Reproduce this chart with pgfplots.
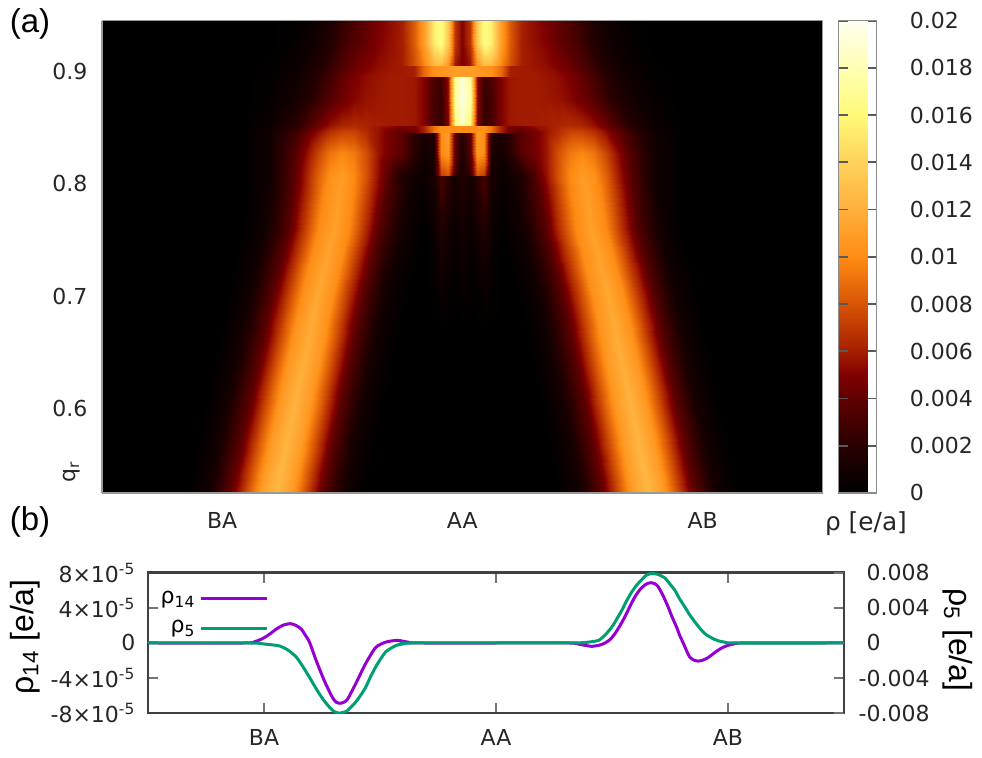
\documentclass[border=0pt]{standalone}
\usepackage{fontspec}
\setmainfont{DejaVu Sans}
\newfontfamily\lib{Liberation Sans}
\usepackage{pgfplots}
\pgfplotsset{compat=1.18}
\definecolor{rhoA}{RGB}{148,0,211}
\definecolor{rhoB}{RGB}{0,158,115}
\pgfplotsset{colormap={rhomap}{rgb255(0cm)=(0,0,0); rgb255(2cm)=(40,0,0); rgb255(4cm)=(96,0,0); rgb255(5cm)=(128,0,0); rgb255(6cm)=(165,30,0); rgb255(8cm)=(215,85,5); rgb255(10cm)=(255,140,20); rgb255(12cm)=(255,175,60); rgb255(14cm)=(255,210,90); rgb255(16cm)=(255,250,120); rgb255(18cm)=(255,255,180); rgb255(20cm)=(255,255,240)}}
\begin{document}
\begin{tikzpicture}
\path[use as bounding box] (0,0) rectangle (491pt,379pt);
\begin{axis}[
  at={(51pt,132.5pt)}, anchor=south west,
  scale only axis, width=360.35pt, height=236.2pt,
  view={0}{90},
  xmin=-1.5, xmax=1.5, ymin=0.525, ymax=0.945,
  ztick=\empty,
  axis background/.style={fill=black},
  axis line style={draw=black!40, line width=0.6pt},
  xtick={-1,0,1}, xticklabels={BA,AA,AB},
  ytick={0.6,0.7,0.8,0.9}, yticklabels={0.6,0.7,0.8,0.9},
  major tick length=0pt,
  tick label style={font=\fontsize{11}{13}\selectfont, text=black!85},
  yticklabel style={xshift=-3.8pt},
  xticklabel style={yshift=-6.3pt},
  colormap name=rhomap,
  point meta min=0, point meta max=0.02,
  colorbar,
  colorbar style={
    at={(parent axis.north east)}, anchor=north west, xshift=-0.45pt,
    width=19pt,
    ytick={0,0.002,0.004,0.006,0.008,0.01,0.012,0.014,0.016,0.018,0.02},
    yticklabels={0,0.002,0.004,0.006,0.008,0.01,0.012,0.014,0.016,0.018,0.02},
    yticklabel style={font=\fontsize{11}{13}\selectfont, text=black!85, xshift=12.95pt},
    tick align=inside, ytick pos=both, yticklabel pos=right,
    major tick length=4.5pt,
    ytick style={draw=black!65, line width=0.9pt},
    axis line style={draw=black!45, line width=0.6pt},
    scaled y ticks=false,
  },
]
% left band
\addplot3[surf, shader=interp, mesh/cols=11, point meta=z] coordinates {
(-1.149,0.525,0) (-1.055,0.525,0.001) (-0.962,0.525,0.0041) (-0.899,0.525,0.0076) (-0.837,0.525,0.011) (-0.774,0.525,0.0125) (-0.712,0.525,0.011) (-0.649,0.525,0.0076) (-0.587,0.525,0.0041) (-0.493,0.525,0.001) (-0.399,0.525,0)
(-1.097,0.58,0) (-1.003,0.58,0.001) (-0.91,0.58,0.004) (-0.847,0.58,0.0075) (-0.785,0.58,0.0108) (-0.722,0.58,0.0123) (-0.66,0.58,0.0108) (-0.597,0.58,0.0075) (-0.535,0.58,0.004) (-0.441,0.58,0.001) (-0.347,0.58,0)
(-1.039,0.64,0) (-0.945,0.64,0.001) (-0.852,0.64,0.0039) (-0.789,0.64,0.0073) (-0.727,0.64,0.0106) (-0.664,0.64,0.012) (-0.602,0.64,0.0106) (-0.539,0.64,0.0073) (-0.477,0.64,0.0039) (-0.383,0.64,0.001) (-0.289,0.64,0)
(-0.981,0.7,0) (-0.887,0.7,0.0009) (-0.794,0.7,0.0038) (-0.731,0.7,0.007) (-0.669,0.7,0.0102) (-0.606,0.7,0.0116) (-0.544,0.7,0.0102) (-0.481,0.7,0.007) (-0.419,0.7,0.0038) (-0.325,0.7,0.0009) (-0.231,0.7,0)
(-0.916,0.76,0) (-0.821,0.76,0.0009) (-0.726,0.76,0.0036) (-0.662,0.76,0.0068) (-0.599,0.76,0.0099) (-0.535,0.76,0.0112) (-0.472,0.76,0.0099) (-0.408,0.76,0.0068) (-0.345,0.76,0.0036) (-0.249,0.76,0.0009) (-0.154,0.76,0)
(-0.9,0.8,0) (-0.8025,0.8,0.0009) (-0.705,0.8,0.0036) (-0.64,0.8,0.0067) (-0.575,0.8,0.0097) (-0.51,0.8,0.011) (-0.445,0.8,0.0097) (-0.38,0.8,0.0067) (-0.315,0.8,0.0036) (-0.2175,0.8,0.0009) (-0.12,0.8,0)
};
% right band
\addplot3[surf, shader=interp, mesh/cols=11, point meta=z] coordinates {
(1.149,0.525,0) (1.055,0.525,0.001) (0.962,0.525,0.0041) (0.899,0.525,0.0076) (0.837,0.525,0.011) (0.774,0.525,0.0125) (0.712,0.525,0.011) (0.649,0.525,0.0076) (0.587,0.525,0.0041) (0.493,0.525,0.001) (0.399,0.525,0)
(1.097,0.58,0) (1.003,0.58,0.001) (0.91,0.58,0.004) (0.847,0.58,0.0075) (0.785,0.58,0.0108) (0.722,0.58,0.0123) (0.66,0.58,0.0108) (0.597,0.58,0.0075) (0.535,0.58,0.004) (0.441,0.58,0.001) (0.347,0.58,0)
(1.039,0.64,0) (0.945,0.64,0.001) (0.852,0.64,0.0039) (0.789,0.64,0.0073) (0.727,0.64,0.0106) (0.664,0.64,0.012) (0.602,0.64,0.0106) (0.539,0.64,0.0073) (0.477,0.64,0.0039) (0.383,0.64,0.001) (0.289,0.64,0)
(0.981,0.7,0) (0.887,0.7,0.0009) (0.794,0.7,0.0038) (0.731,0.7,0.007) (0.669,0.7,0.0102) (0.606,0.7,0.0116) (0.544,0.7,0.0102) (0.481,0.7,0.007) (0.419,0.7,0.0038) (0.325,0.7,0.0009) (0.231,0.7,0)
(0.916,0.76,0) (0.821,0.76,0.0009) (0.726,0.76,0.0036) (0.662,0.76,0.0068) (0.599,0.76,0.0099) (0.535,0.76,0.0112) (0.472,0.76,0.0099) (0.408,0.76,0.0068) (0.345,0.76,0.0036) (0.249,0.76,0.0009) (0.154,0.76,0)
(0.9,0.8,0) (0.8025,0.8,0.0009) (0.705,0.8,0.0036) (0.64,0.8,0.0067) (0.575,0.8,0.0097) (0.51,0.8,0.011) (0.445,0.8,0.0097) (0.38,0.8,0.0067) (0.315,0.8,0.0036) (0.2175,0.8,0.0009) (0.12,0.8,0)
};
% faint central stripes
\addplot3[surf, shader=interp, mesh/cols=11, point meta=z] coordinates {
(-0.16,0.67,0) (-0.12,0.67,0) (-0.09,0.67,0) (-0.06,0.67,0) (-0.03,0.67,0) (0,0.67,0) (0.03,0.67,0) (0.06,0.67,0) (0.09,0.67,0) (0.12,0.67,0) (0.16,0.67,0)
(-0.16,0.72,0) (-0.12,0.72,0.0003) (-0.09,0.72,0.0008) (-0.06,0.72,0.0004) (-0.03,0.72,0.0002) (0,0.72,0.0006) (0.03,0.72,0.0002) (0.06,0.72,0.0004) (0.09,0.72,0.0008) (0.12,0.72,0.0003) (0.16,0.72,0)
(-0.16,0.76,0) (-0.12,0.76,0.0006) (-0.09,0.76,0.0016) (-0.06,0.76,0.001) (-0.03,0.76,0.0005) (0,0.76,0.001) (0.03,0.76,0.0005) (0.06,0.76,0.001) (0.09,0.76,0.0016) (0.12,0.76,0.0006) (0.16,0.76,0)
(-0.16,0.8,0.0006) (-0.12,0.8,0.0011) (-0.09,0.8,0.0031) (-0.06,0.8,0.002) (-0.03,0.8,0.001) (0,0.8,0.0016) (0.03,0.8,0.001) (0.06,0.8,0.002) (0.09,0.8,0.0031) (0.12,0.8,0.0011) (0.16,0.8,0.0006)
};
% top region
\addplot3[surf, shader=interp, mesh/cols=37, point meta=z] coordinates {
(-0.9,0.8,0.0001) (-0.8,0.8,0.0009) (-0.7,0.8,0.0038) (-0.65,0.8,0.0061) (-0.6,0.8,0.0087) (-0.55,0.8,0.0105) (-0.5,0.8,0.011) (-0.45,0.8,0.0099) (-0.4,0.8,0.0077) (-0.35,0.8,0.0052) (-0.3,0.8,0.003) (-0.25,0.8,0.0015) (-0.2,0.8,0.0006) (-0.16,0.8,0.0006) (-0.12,0.8,0.0011) (-0.09,0.8,0.0031) (-0.06,0.8,0.002) (-0.03,0.8,0.001) (0,0.8,0.0016) (0.03,0.8,0.001) (0.06,0.8,0.002) (0.09,0.8,0.0031) (0.12,0.8,0.0011) (0.16,0.8,0.0006) (0.2,0.8,0.0006) (0.25,0.8,0.0015) (0.3,0.8,0.003) (0.35,0.8,0.0052) (0.4,0.8,0.0077) (0.45,0.8,0.0099) (0.5,0.8,0.011) (0.55,0.8,0.0105) (0.6,0.8,0.0087) (0.65,0.8,0.0061) (0.7,0.8,0.0038) (0.8,0.8,0.0009) (0.9,0.8,0.0001)
(-0.9,0.8079,0.0001) (-0.8,0.8079,0.0009) (-0.7,0.8079,0.0037) (-0.65,0.8079,0.006) (-0.6,0.8079,0.0084) (-0.55,0.8079,0.0102) (-0.5,0.8079,0.0108) (-0.45,0.8079,0.0099) (-0.4,0.8079,0.0079) (-0.35,0.8079,0.0055) (-0.3,0.8079,0.0033) (-0.25,0.8079,0.0017) (-0.2,0.8079,0.0008) (-0.16,0.8079,0.0007) (-0.12,0.8079,0.0012) (-0.09,0.8079,0.0031) (-0.06,0.8079,0.002) (-0.03,0.8079,0.001) (0,0.8079,0.0016) (0.03,0.8079,0.001) (0.06,0.8079,0.002) (0.09,0.8079,0.0031) (0.12,0.8079,0.0012) (0.16,0.8079,0.0007) (0.2,0.8079,0.0008) (0.25,0.8079,0.0017) (0.3,0.8079,0.0033) (0.35,0.8079,0.0055) (0.4,0.8079,0.0079) (0.45,0.8079,0.0099) (0.5,0.8079,0.0108) (0.55,0.8079,0.0102) (0.6,0.8079,0.0084) (0.65,0.8079,0.006) (0.7,0.8079,0.0037) (0.8,0.8079,0.0009) (0.9,0.8079,0.0001)
(-0.9,0.8081,0.0001) (-0.8,0.8081,0.0009) (-0.7,0.8081,0.0037) (-0.65,0.8081,0.006) (-0.6,0.8081,0.0084) (-0.55,0.8081,0.0102) (-0.5,0.8081,0.0108) (-0.45,0.8081,0.0099) (-0.4,0.8081,0.0079) (-0.35,0.8081,0.0055) (-0.3,0.8081,0.0033) (-0.25,0.8081,0.0017) (-0.2,0.8081,0.0008) (-0.16,0.8081,0.0005) (-0.12,0.8081,0.001) (-0.09,0.8081,0.0072) (-0.06,0.8081,0.008) (-0.03,0.8081,0.0028) (0,0.8081,0.0012) (0.03,0.8081,0.0028) (0.06,0.8081,0.008) (0.09,0.8081,0.0072) (0.12,0.8081,0.001) (0.16,0.8081,0.0005) (0.2,0.8081,0.0008) (0.25,0.8081,0.0017) (0.3,0.8081,0.0033) (0.35,0.8081,0.0055) (0.4,0.8081,0.0079) (0.45,0.8081,0.0099) (0.5,0.8081,0.0108) (0.55,0.8081,0.0102) (0.6,0.8081,0.0084) (0.65,0.8081,0.006) (0.7,0.8081,0.0037) (0.8,0.8081,0.0009) (0.9,0.8081,0.0001)
(-0.9,0.827,0.0001) (-0.8,0.827,0.0009) (-0.7,0.827,0.0034) (-0.65,0.827,0.0053) (-0.6,0.827,0.0074) (-0.55,0.827,0.0091) (-0.5,0.827,0.0098) (-0.45,0.827,0.0093) (-0.4,0.827,0.0078) (-0.35,0.827,0.0057) (-0.3,0.827,0.0045) (-0.25,0.827,0.0038) (-0.2,0.827,0.002) (-0.16,0.827,0.0009) (-0.12,0.827,0.0015) (-0.09,0.827,0.01) (-0.06,0.827,0.0108) (-0.03,0.827,0.0036) (0,0.827,0.0016) (0.03,0.827,0.0036) (0.06,0.827,0.0108) (0.09,0.827,0.01) (0.12,0.827,0.0015) (0.16,0.827,0.0009) (0.2,0.827,0.002) (0.25,0.827,0.0038) (0.3,0.827,0.0045) (0.35,0.827,0.0057) (0.4,0.827,0.0078) (0.45,0.827,0.0093) (0.5,0.827,0.0098) (0.55,0.827,0.0091) (0.6,0.827,0.0074) (0.65,0.827,0.0053) (0.7,0.827,0.0034) (0.8,0.827,0.0009) (0.9,0.827,0.0001)
(-0.9,0.8459,0.0002) (-0.8,0.8459,0.0008) (-0.7,0.8459,0.0026) (-0.65,0.8459,0.004) (-0.6,0.8459,0.0054) (-0.55,0.8459,0.0067) (-0.5,0.8459,0.0074) (-0.45,0.8459,0.0074) (-0.4,0.8459,0.0065) (-0.35,0.8459,0.0056) (-0.3,0.8459,0.0046) (-0.25,0.8459,0.0038) (-0.2,0.8459,0.0022) (-0.16,0.8459,0.0012) (-0.12,0.8459,0.0018) (-0.09,0.8459,0.0102) (-0.06,0.8459,0.011) (-0.03,0.8459,0.0038) (0,0.8459,0.0018) (0.03,0.8459,0.0038) (0.06,0.8459,0.011) (0.09,0.8459,0.0102) (0.12,0.8459,0.0018) (0.16,0.8459,0.0012) (0.2,0.8459,0.0022) (0.25,0.8459,0.0038) (0.3,0.8459,0.0046) (0.35,0.8459,0.0056) (0.4,0.8459,0.0065) (0.45,0.8459,0.0074) (0.5,0.8459,0.0074) (0.55,0.8459,0.0067) (0.6,0.8459,0.0054) (0.65,0.8459,0.004) (0.7,0.8459,0.0026) (0.8,0.8459,0.0008) (0.9,0.8459,0.0002)
(-0.9,0.8461,0.0002) (-0.8,0.8461,0.0008) (-0.7,0.8461,0.0026) (-0.65,0.8461,0.004) (-0.6,0.8461,0.0054) (-0.55,0.8461,0.0067) (-0.5,0.8461,0.0074) (-0.45,0.8461,0.0074) (-0.4,0.8461,0.0065) (-0.35,0.8461,0.0056) (-0.3,0.8461,0.0046) (-0.25,0.8461,0.0038) (-0.2,0.8461,0.0045) (-0.16,0.8461,0.006) (-0.12,0.8461,0.0092) (-0.09,0.8461,0.0103) (-0.06,0.8461,0.0103) (-0.03,0.8461,0.01) (0,0.8461,0.01) (0.03,0.8461,0.01) (0.06,0.8461,0.0103) (0.09,0.8461,0.0103) (0.12,0.8461,0.0092) (0.16,0.8461,0.006) (0.2,0.8461,0.0045) (0.25,0.8461,0.0038) (0.3,0.8461,0.0046) (0.35,0.8461,0.0056) (0.4,0.8461,0.0065) (0.45,0.8461,0.0074) (0.5,0.8461,0.0074) (0.55,0.8461,0.0067) (0.6,0.8461,0.0054) (0.65,0.8461,0.004) (0.7,0.8461,0.0026) (0.8,0.8461,0.0008) (0.9,0.8461,0.0002)
(-0.9,0.8519,0.0001) (-0.8,0.8519,0.0006) (-0.7,0.8519,0.0018) (-0.65,0.8519,0.003) (-0.6,0.8519,0.0043) (-0.55,0.8519,0.0055) (-0.5,0.8519,0.0062) (-0.45,0.8519,0.0064) (-0.4,0.8519,0.0062) (-0.35,0.8519,0.0058) (-0.3,0.8519,0.0055) (-0.25,0.8519,0.005) (-0.2,0.8519,0.0048) (-0.16,0.8519,0.0062) (-0.12,0.8519,0.0092) (-0.09,0.8519,0.0103) (-0.06,0.8519,0.0103) (-0.03,0.8519,0.01) (0,0.8519,0.01) (0.03,0.8519,0.01) (0.06,0.8519,0.0103) (0.09,0.8519,0.0103) (0.12,0.8519,0.0092) (0.16,0.8519,0.0062) (0.2,0.8519,0.0048) (0.25,0.8519,0.005) (0.3,0.8519,0.0055) (0.35,0.8519,0.0058) (0.4,0.8519,0.0062) (0.45,0.8519,0.0064) (0.5,0.8519,0.0062) (0.55,0.8519,0.0055) (0.6,0.8519,0.0043) (0.65,0.8519,0.003) (0.7,0.8519,0.0018) (0.8,0.8519,0.0006) (0.9,0.8519,0.0001)
(-0.9,0.8521,0.0001) (-0.8,0.8521,0.0006) (-0.7,0.8521,0.0018) (-0.65,0.8521,0.003) (-0.6,0.8521,0.0043) (-0.55,0.8521,0.0055) (-0.5,0.8521,0.0062) (-0.45,0.8521,0.0064) (-0.4,0.8521,0.0062) (-0.35,0.8521,0.006) (-0.3,0.8521,0.0059) (-0.25,0.8521,0.0059) (-0.2,0.8521,0.0058) (-0.16,0.8521,0.005) (-0.12,0.8521,0.003) (-0.09,0.8521,0.0025) (-0.06,0.8521,0.005) (-0.03,0.8521,0.016) (0,0.8521,0.0185) (0.03,0.8521,0.016) (0.06,0.8521,0.005) (0.09,0.8521,0.0025) (0.12,0.8521,0.003) (0.16,0.8521,0.005) (0.2,0.8521,0.0058) (0.25,0.8521,0.0059) (0.3,0.8521,0.0059) (0.35,0.8521,0.006) (0.4,0.8521,0.0062) (0.45,0.8521,0.0064) (0.5,0.8521,0.0062) (0.55,0.8521,0.0055) (0.6,0.8521,0.0043) (0.65,0.8521,0.003) (0.7,0.8521,0.0018) (0.8,0.8521,0.0006) (0.9,0.8521,0.0001)
(-0.9,0.874,0) (-0.8,0.874,0.0003) (-0.7,0.874,0.001) (-0.65,0.874,0.0017) (-0.6,0.874,0.0026) (-0.55,0.874,0.0036) (-0.5,0.874,0.0045) (-0.45,0.874,0.0052) (-0.4,0.874,0.0056) (-0.35,0.874,0.0058) (-0.3,0.874,0.0059) (-0.25,0.874,0.0059) (-0.2,0.874,0.0058) (-0.16,0.874,0.005) (-0.12,0.874,0.003) (-0.09,0.874,0.0025) (-0.06,0.874,0.0055) (-0.03,0.874,0.0175) (0,0.874,0.0195) (0.03,0.874,0.0175) (0.06,0.874,0.0055) (0.09,0.874,0.0025) (0.12,0.874,0.003) (0.16,0.874,0.005) (0.2,0.874,0.0058) (0.25,0.874,0.0059) (0.3,0.874,0.0059) (0.35,0.874,0.0058) (0.4,0.874,0.0056) (0.45,0.874,0.0052) (0.5,0.874,0.0045) (0.55,0.874,0.0036) (0.6,0.874,0.0026) (0.65,0.874,0.0017) (0.7,0.874,0.001) (0.8,0.874,0.0003) (0.9,0.874,0)
(-0.9,0.8959,0) (-0.8,0.8959,0.0002) (-0.7,0.8959,0.0007) (-0.65,0.8959,0.0012) (-0.6,0.8959,0.002) (-0.55,0.8959,0.003) (-0.5,0.8959,0.004) (-0.45,0.8959,0.0048) (-0.4,0.8959,0.0054) (-0.35,0.8959,0.0057) (-0.3,0.8959,0.0059) (-0.25,0.8959,0.0059) (-0.2,0.8959,0.0058) (-0.16,0.8959,0.005) (-0.12,0.8959,0.0033) (-0.09,0.8959,0.0028) (-0.06,0.8959,0.0055) (-0.03,0.8959,0.017) (0,0.8959,0.019) (0.03,0.8959,0.017) (0.06,0.8959,0.0055) (0.09,0.8959,0.0028) (0.12,0.8959,0.0033) (0.16,0.8959,0.005) (0.2,0.8959,0.0058) (0.25,0.8959,0.0059) (0.3,0.8959,0.0059) (0.35,0.8959,0.0057) (0.4,0.8959,0.0054) (0.45,0.8959,0.0048) (0.5,0.8959,0.004) (0.55,0.8959,0.003) (0.6,0.8959,0.002) (0.65,0.8959,0.0012) (0.7,0.8959,0.0007) (0.8,0.8959,0.0002) (0.9,0.8959,0)
(-0.9,0.8961,0) (-0.8,0.8961,0.0002) (-0.7,0.8961,0.0007) (-0.65,0.8961,0.0012) (-0.6,0.8961,0.002) (-0.55,0.8961,0.003) (-0.5,0.8961,0.004) (-0.45,0.8961,0.0048) (-0.4,0.8961,0.0054) (-0.35,0.8961,0.0057) (-0.3,0.8961,0.0059) (-0.25,0.8961,0.0059) (-0.2,0.8961,0.006) (-0.16,0.8961,0.0088) (-0.12,0.8961,0.0103) (-0.09,0.8961,0.0105) (-0.06,0.8961,0.0108) (-0.03,0.8961,0.011) (0,0.8961,0.011) (0.03,0.8961,0.011) (0.06,0.8961,0.0108) (0.09,0.8961,0.0105) (0.12,0.8961,0.0103) (0.16,0.8961,0.0088) (0.2,0.8961,0.006) (0.25,0.8961,0.0059) (0.3,0.8961,0.0059) (0.35,0.8961,0.0057) (0.4,0.8961,0.0054) (0.45,0.8961,0.0048) (0.5,0.8961,0.004) (0.55,0.8961,0.003) (0.6,0.8961,0.002) (0.65,0.8961,0.0012) (0.7,0.8961,0.0007) (0.8,0.8961,0.0002) (0.9,0.8961,0)
(-0.9,0.9049,0) (-0.8,0.9049,0.0001) (-0.7,0.9049,0.0005) (-0.65,0.9049,0.0009) (-0.6,0.9049,0.0015) (-0.55,0.9049,0.0024) (-0.5,0.9049,0.0034) (-0.45,0.9049,0.0042) (-0.4,0.9049,0.0049) (-0.35,0.9049,0.0054) (-0.3,0.9049,0.0057) (-0.25,0.9049,0.0059) (-0.2,0.9049,0.006) (-0.16,0.9049,0.0088) (-0.12,0.9049,0.0103) (-0.09,0.9049,0.0105) (-0.06,0.9049,0.0108) (-0.03,0.9049,0.011) (0,0.9049,0.011) (0.03,0.9049,0.011) (0.06,0.9049,0.0108) (0.09,0.9049,0.0105) (0.12,0.9049,0.0103) (0.16,0.9049,0.0088) (0.2,0.9049,0.006) (0.25,0.9049,0.0059) (0.3,0.9049,0.0057) (0.35,0.9049,0.0054) (0.4,0.9049,0.0049) (0.45,0.9049,0.0042) (0.5,0.9049,0.0034) (0.55,0.9049,0.0024) (0.6,0.9049,0.0015) (0.65,0.9049,0.0009) (0.7,0.9049,0.0005) (0.8,0.9049,0.0001) (0.9,0.9049,0)
(-0.9,0.9051,0) (-0.8,0.9051,0.0001) (-0.7,0.9051,0.0005) (-0.65,0.9051,0.0009) (-0.6,0.9051,0.0015) (-0.55,0.9051,0.0024) (-0.5,0.9051,0.0034) (-0.45,0.9051,0.0042) (-0.4,0.9051,0.0049) (-0.35,0.9051,0.0054) (-0.3,0.9051,0.0057) (-0.25,0.9051,0.006) (-0.2,0.9051,0.0078) (-0.16,0.9051,0.0098) (-0.12,0.9051,0.0125) (-0.09,0.9051,0.0128) (-0.06,0.9051,0.0105) (-0.03,0.9051,0.0058) (0,0.9051,0.0048) (0.03,0.9051,0.0058) (0.06,0.9051,0.0105) (0.09,0.9051,0.0128) (0.12,0.9051,0.0125) (0.16,0.9051,0.0098) (0.2,0.9051,0.0078) (0.25,0.9051,0.006) (0.3,0.9051,0.0057) (0.35,0.9051,0.0054) (0.4,0.9051,0.0049) (0.45,0.9051,0.0042) (0.5,0.9051,0.0034) (0.55,0.9051,0.0024) (0.6,0.9051,0.0015) (0.65,0.9051,0.0009) (0.7,0.9051,0.0005) (0.8,0.9051,0.0001) (0.9,0.9051,0)
(-0.9,0.925,0) (-0.8,0.925,0) (-0.7,0.925,0.0003) (-0.65,0.925,0.0006) (-0.6,0.925,0.001) (-0.55,0.925,0.0017) (-0.5,0.925,0.0028) (-0.45,0.925,0.0035) (-0.4,0.925,0.0042) (-0.35,0.925,0.005) (-0.3,0.925,0.0055) (-0.25,0.925,0.006) (-0.2,0.925,0.0082) (-0.16,0.925,0.011) (-0.12,0.925,0.0155) (-0.09,0.925,0.0165) (-0.06,0.925,0.0135) (-0.03,0.925,0.0068) (0,0.925,0.005) (0.03,0.925,0.0068) (0.06,0.925,0.0135) (0.09,0.925,0.0165) (0.12,0.925,0.0155) (0.16,0.925,0.011) (0.2,0.925,0.0082) (0.25,0.925,0.006) (0.3,0.925,0.0055) (0.35,0.925,0.005) (0.4,0.925,0.0042) (0.45,0.925,0.0035) (0.5,0.925,0.0028) (0.55,0.925,0.0017) (0.6,0.925,0.001) (0.65,0.925,0.0006) (0.7,0.925,0.0003) (0.8,0.925,0) (0.9,0.925,0)
(-0.9,0.945,0) (-0.8,0.945,0) (-0.7,0.945,0.0002) (-0.65,0.945,0.0004) (-0.6,0.945,0.0008) (-0.55,0.945,0.0014) (-0.5,0.945,0.0024) (-0.45,0.945,0.0032) (-0.4,0.945,0.004) (-0.35,0.945,0.0048) (-0.3,0.945,0.0054) (-0.25,0.945,0.006) (-0.2,0.945,0.0082) (-0.16,0.945,0.011) (-0.12,0.945,0.0155) (-0.09,0.945,0.0165) (-0.06,0.945,0.0135) (-0.03,0.945,0.0068) (0,0.945,0.005) (0.03,0.945,0.0068) (0.06,0.945,0.0135) (0.09,0.945,0.0165) (0.12,0.945,0.0155) (0.16,0.945,0.011) (0.2,0.945,0.0082) (0.25,0.945,0.006) (0.3,0.945,0.0054) (0.35,0.945,0.0048) (0.4,0.945,0.004) (0.45,0.945,0.0032) (0.5,0.945,0.0024) (0.55,0.945,0.0014) (0.6,0.945,0.0008) (0.65,0.945,0.0004) (0.7,0.945,0.0002) (0.8,0.945,0) (0.9,0.945,0)
};
\end{axis}
% bottom panel, left axis
\begin{axis}[
  at={(74pt,22.35pt)}, anchor=south west,
  scale only axis, width=348pt, height=70.3pt,
  xmin=-1.5, xmax=1.5, ymin=-8e-5, ymax=8e-5,
  xtick={-1,0,1}, xticklabels={BA,AA,AB},
  ytick={-8e-5,-4e-5,0,4e-5,8e-5},
  yticklabels={-8×10\textsuperscript{-5},-4×10\textsuperscript{-5},0,4×10\textsuperscript{-5},8×10\textsuperscript{-5}},
  scaled y ticks=false,
  tick align=inside, xtick pos=both, ytick pos=left,
  major tick length=5pt,
  tick style={draw=black!55, line width=1pt},
  axis line style={draw=black!75, line width=1.2pt},
  tick label style={font=\fontsize{11}{13}\selectfont, text=black!85},
  yticklabel style={xshift=-2.8pt},
  xticklabel style={yshift=-4.5pt},
  legend style={at={(0.012,0.9)}, anchor=north west, draw=none, fill=none, font=\fontsize{11}{13}\selectfont, row sep=3pt, inner sep=0pt},
  legend cell align=right, legend plot pos=right,
  legend image code/.code={\draw[#1] (0pt,0pt) -- (33pt,0pt);},
]
\addplot[color=rhoA, line width=1.5pt, smooth, tension=0.4] coordinates {
(-1.5,0) (-1.08,0) (-1.04,0.15e-5) (-1.006,0.5e-5) (-0.976,1.0e-5) (-0.946,1.6e-5) (-0.915,2.05e-5) (-0.886,2.2e-5) (-0.862,2.0e-5) (-0.840,1.6e-5) (-0.822,0.9e-5) (-0.804,0.1e-5) (-0.775,-2.0e-5) (-0.740,-4.3e-5) (-0.705,-6.2e-5) (-0.688,-6.75e-5) (-0.672,-6.86e-5) (-0.656,-6.75e-5) (-0.640,-6.4e-5) (-0.604,-4.6e-5) (-0.561,-2.3e-5) (-0.518,-0.5e-5) (-0.475,0.1e-5) (-0.425,0.3e-5) (-0.38,0.1e-5) (-0.33,0) (0.30,0) (0.341,-0.05e-5) (0.38,-0.25e-5) (0.413,-0.38e-5) (0.445,-0.25e-5) (0.470,0) (0.492,0.4e-5) (0.513,1.07e-5) (0.535,2.0e-5) (0.556,3.0e-5) (0.578,4.2e-5) (0.599,5.26e-5) (0.621,6.1e-5) (0.642,6.6e-5) (0.656,6.8e-5) (0.668,6.86e-5) (0.684,6.75e-5) (0.699,6.4e-5) (0.720,5.4e-5) (0.742,4.1e-5) (0.760,2.9e-5) (0.778,1.83e-5) (0.792,0.85e-5) (0.807,0) (0.821,-0.85e-5) (0.835,-1.6e-5) (0.853,-1.95e-5) (0.871,-2.06e-5) (0.892,-1.95e-5) (0.914,-1.67e-5) (0.935,-1.25e-5) (0.957,-0.83e-5) (0.978,-0.5e-5) (1.0,-0.27e-5) (1.03,-0.08e-5) (1.056,0) (1.5,0)
};
\addlegendentry{ρ\textsubscript{14}}
\addlegendimage{color=rhoB, line width=1.5pt}
\addlegendentry{ρ\textsubscript{5}}
\end{axis}
% bottom panel, right axis
\begin{axis}[
  at={(74pt,22.35pt)}, anchor=south west,
  scale only axis, width=348pt, height=70.3pt,
  xmin=-1.5, xmax=1.5, ymin=-0.008, ymax=0.008,
  axis x line=none, axis y line*=right,
  ytick={-0.008,-0.004,0,0.004,0.008},
  yticklabels={\llap{-}0.008,\llap{-}0.004,0,0.004,0.008},
  scaled y ticks=false,
  tick align=inside, major tick length=5pt,
  tick style={draw=black!55, line width=1pt},
  axis line style={draw=black!75, line width=1.2pt},
  tick label style={font=\fontsize{11}{13}\selectfont, text=black!85},
  yticklabel style={anchor=west, xshift=7.8pt},
]
\addplot[color=rhoB, line width=1.5pt, smooth, tension=0.4] coordinates {
(-1.5,0) (-1.06,0) (-1.006,-0.0001) (-0.97,-0.0002) (-0.933,-0.00034) (-0.897,-0.0008) (-0.861,-0.0016) (-0.832,-0.0027) (-0.804,-0.0039) (-0.782,-0.0049) (-0.761,-0.0058) (-0.740,-0.0066) (-0.718,-0.0073) (-0.703,-0.0077) (-0.689,-0.0079) (-0.675,-0.0080) (-0.660,-0.0079) (-0.646,-0.0078) (-0.625,-0.0073) (-0.604,-0.0067) (-0.582,-0.0059) (-0.561,-0.0050) (-0.540,-0.0038) (-0.518,-0.0027) (-0.497,-0.0018) (-0.475,-0.0010) (-0.453,-0.0006) (-0.432,-0.0003) (-0.40,-0.0001) (-0.36,0) (0.33,0) (0.37,0.00003) (0.40,0.0001) (0.442,0.0003) (0.47,0.0009) (0.499,0.0018) (0.52,0.0027) (0.542,0.0037) (0.563,0.0048) (0.585,0.0058) (0.607,0.0066) (0.628,0.0072) (0.642,0.0076) (0.655,0.0078) (0.668,0.0079) (0.678,0.0079) (0.70,0.0078) (0.714,0.0076) (0.728,0.0074) (0.75,0.0067) (0.771,0.0060) (0.792,0.0050) (0.814,0.0041) (0.835,0.0032) (0.857,0.0024) (0.878,0.0017) (0.900,0.00107) (0.921,0.0007) (0.943,0.0004) (0.965,0.0002) (0.986,0.0001) (1.029,0) (1.5,0)
};
\end{axis}
% labels
\node[font=\lib\fontsize{16.5}{18}\selectfont] at (15pt,367pt) {(a)};
\node[font=\lib\fontsize{16.5}{18}\selectfont] at (15pt,118.25pt) {(b)};
\node[font=\fontsize{12.4}{14}\selectfont, text=black!85] at (433pt,117pt) {ρ [e/a]};
\node[rotate=90, font=\fontsize{11}{13}\selectfont, text=black!85] at (36pt,143pt) {q\textsubscript{r}};
\node[rotate=90, font=\lib\fontsize{16}{18}\selectfont] at (12.5pt,60.5pt) {ρ\textsubscript{14} [e/a]};
\node[rotate=-90, font=\lib\fontsize{16}{18}\selectfont] at (478.75pt,59pt) {ρ\textsubscript{5} [e/a]};
\end{tikzpicture}
\end{document}
